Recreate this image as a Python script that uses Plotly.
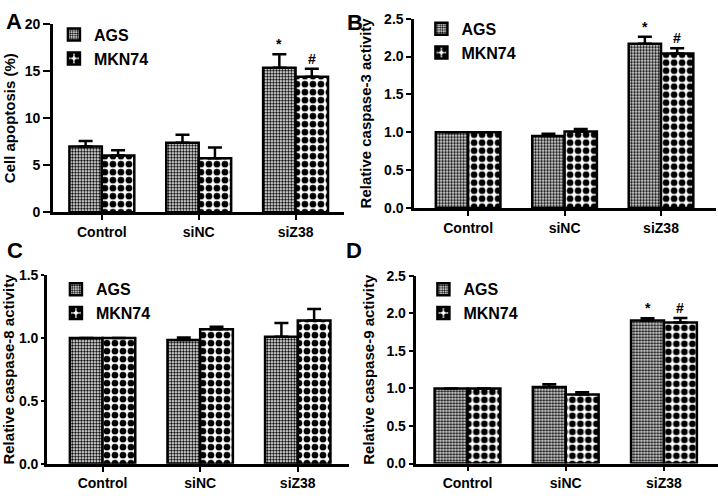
import plotly.graph_objects as go

categories = ["Control", "siNC", "siZ38"]

# Panel A: cell apoptosis (%)
a_ags = [7.0, 7.38, 15.37]
a_ags_err = [0.57, 0.85, 1.43]
a_mkn = [6.04, 5.73, 14.41]
a_mkn_err = [0.56, 1.14, 0.85]

# Panel B: caspase-3
b_ags = [1.0, 0.95, 2.17]
b_ags_err = [0.0, 0.03, 0.09]
b_mkn = [1.0, 1.01, 2.04]
b_mkn_err = [0.0, 0.035, 0.07]

# Panel C: caspase-8
c_ags = [1.0, 0.985, 1.01]
c_ags_err = [0.0, 0.02, 0.11]
c_mkn = [1.0, 1.07, 1.14]
c_mkn_err = [0.0, 0.02, 0.09]

# Panel D: caspase-9
d_ags = [1.0, 1.02, 1.905]
d_ags_err = [0.0, 0.035, 0.03]
d_mkn = [1.0, 0.92, 1.877]
d_mkn_err = [0.0, 0.03, 0.06]

series_names = ["AGS", "MKN74"]
y_titles = ["Cell apoptosis (%)", "Relative caspase-3 activity",
            "Relative caspase-8 activity", "Relative caspase-9 activity"]
y_ranges = [[0, 20], [0, 2.5], [0, 1.5], [0, 2.5]]
y_dticks = [5, 0.5, 0.5, 0.5]
y_formats = ["d", ".1f", ".1f", ".1f"]
panel_letters = ["A", "B", "C", "D"]
sig_marks = [("*", "#"), ("*", "#"), (None, None), ("*", "#")]

W, H = 718, 498
FONT = "Arial, Liberation Sans, sans-serif"

def px_x(p):
    return p / W

def px_y(p):
    return 1 - p / H

# domains in pixels: (x0, x1, ytop, ybottom)
domains_px = [(52, 343, 16.7, 211), (413.7, 716, 11, 206.7),
              (46, 348, 276, 471), (416, 718, 276.7, 470.7)]
x_ranges = [[-0.505, 2.495], [-0.56, 2.57], [-0.57, 2.52], [-0.52, 2.55]]
legend_pos = [(53, 10), (421, 4), (55, 273), (423, 273)]
letter_pos = [(13.5, 13.5), (354, 15), (14, 251), (353, 251)]
y_ticklens = [7, 5, 3, 5]
y_standoffs = [6, 9, 8, 9]

bargap = 0.33
bw = (1 - bargap) / 2

data = [
    (a_ags, a_ags_err, a_mkn, a_mkn_err),
    (b_ags, b_ags_err, b_mkn, b_mkn_err),
    (c_ags, c_ags_err, c_mkn, c_mkn_err),
    (d_ags, d_ags_err, d_mkn, d_mkn_err),
]

patterns = [
    dict(shape=".", size=3, solidity=0.5, fgcolor="#000000", bgcolor="#ffffff",
         fgopacity=1, fillmode="replace"),
    dict(shape=".", size=8, solidity=0.55, fgcolor="#000000", bgcolor="#ffffff",
         fgopacity=1, fillmode="replace"),
]

fig = go.Figure()
annotations = []
layout_extra = {}

for i in range(4):
    suffix = "" if i == 0 else str(i + 1)
    xa = "x" + suffix
    ya = "y" + suffix
    leg = "legend" + suffix
    ags, ags_err, mkn, mkn_err = data[i]
    for j, (vals, errs) in enumerate([(ags, ags_err), (mkn, mkn_err)]):
        fig.add_trace(go.Bar(
            x=categories, y=vals, name=series_names[j],
            xaxis=xa, yaxis=ya, legend=leg,
            marker=dict(color="#ffffff", line=dict(color="black", width=2.5),
                        pattern=patterns[j]),
            error_y=dict(type="data", array=errs, arrayminus=[0] * 3,
                         symmetric=False, color="black", thickness=2.5, width=7),
        ))
    x0, x1, yt, yb = domains_px[i]
    layout_extra["xaxis" + suffix] = dict(
        domain=[px_x(x0), px_x(x1)], anchor=ya, range=x_ranges[i],
        showline=True, linewidth=2.5, linecolor="black", ticks="outside",
        ticklen=5, tickwidth=2, tickcolor="black", showgrid=False, zeroline=False,
        tickfont=dict(family=FONT, size=14, color="black", weight="bold"),
    )
    layout_extra["yaxis" + suffix] = dict(
        domain=[px_y(yb), px_y(yt)], anchor=xa, range=y_ranges[i],
        dtick=y_dticks[i], tick0=0, tickformat=y_formats[i],
        showline=True, linewidth=2.5, linecolor="black", ticks="outside",
        ticklen=y_ticklens[i], tickwidth=2, tickcolor="black",
        showgrid=False, zeroline=False,
        tickfont=dict(family=FONT, size=14, color="black", weight="bold"),
        title=dict(text=y_titles[i], standoff=y_standoffs[i],
                   font=dict(family=FONT, size=15, color="black", weight="bold")),
    )
    lx, ly = legend_pos[i]
    layout_extra[leg] = dict(
        x=px_x(lx), y=px_y(ly), xanchor="left", yanchor="top",
        bgcolor="rgba(0,0,0,0)", tracegroupgap=0, itemwidth=30,
        font=dict(family=FONT, size=16, color="black", weight="bold"),
    )
    tx, ty = letter_pos[i]
    annotations.append(dict(
        x=px_x(tx), y=px_y(ty), xref="paper", yref="paper", text=panel_letters[i],
        showarrow=False, xanchor="center", yanchor="middle",
        font=dict(family=FONT, size=22, color="black", weight="bold"),
    ))
    for j, (vals, errs) in enumerate([(ags, ags_err), (mkn, mkn_err)]):
        mark = sig_marks[i][j]
        if mark:
            off = -bw / 2 if j == 0 else bw / 2
            annotations.append(dict(
                x=2 + off, y=vals[2] + errs[2], xref=xa, yref=ya, text=mark,
                showarrow=False, xanchor="center", yanchor="bottom", yshift=0,
                font=dict(family=FONT, size=14, color="black", weight="bold"),
            ))

fig.update_layout(
    width=W, height=H, margin=dict(l=0, r=0, t=0, b=0),
    paper_bgcolor="white", plot_bgcolor="white",
    barmode="group", bargap=bargap, bargroupgap=0,
    showlegend=True, annotations=annotations,
    font=dict(family=FONT, color="black"),
    **layout_extra,
)

fig.write_html(
    "out.html",
    config={"displayModeBar": False},
    post_script="document.body.style.margin='0';document.body.style.overflow='hidden';",
)
